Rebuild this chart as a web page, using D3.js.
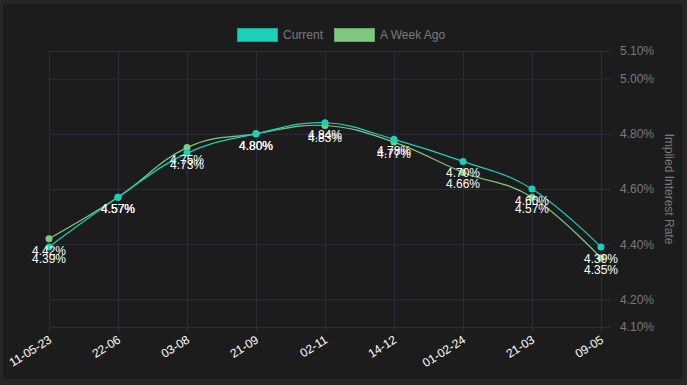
<!DOCTYPE html>
<html>
<head>
<meta charset="utf-8">
<script src="https://cdn.jsdelivr.net/npm/d3@7"></script>
<style>
  html, body { margin: 0; padding: 0; background: #262626; }
  svg { display: block; font-family: "Liberation Sans", Arial, sans-serif; }
</style>
</head>
<body>
<svg id="chart" width="687" height="385"></svg>
<script>
// meeting dates (x categories)
var dates = ["11-05-23", "22-06", "03-08", "21-09", "02-11", "14-12", "01-02-24", "21-03", "09-05"];
// implied rates, %
var current = [4.39, 4.57, 4.73, 4.80, 4.84, 4.78, 4.70, 4.60, 4.39];
var weekAgo = [4.42, 4.57, 4.75, 4.80, 4.83, 4.77, 4.66, 4.57, 4.35];
var yTicks = [5.10, 5.00, 4.80, 4.60, 4.40, 4.20, 4.10];

var series = [
  { name: "A Week Ago", values: weekAgo, color: "#7fc97f" },
  { name: "Current", values: current, color: "#1ccfb9" }
];

var svg = d3.select("#chart");
var plotLeft = 49, plotRight = 601, plotTop = 51, plotBottom = 327;

// card background
svg.append("rect")
  .attr("x", 3).attr("y", 4)
  .attr("width", 679).attr("height", 375)
  .attr("rx", 3)
  .attr("fill", "#1c1c1c");

var x = d3.scalePoint().domain(dates).range([plotLeft, plotRight]);
var y = d3.scaleLinear().domain([4.10, 5.10]).range([plotBottom, plotTop]);

var gridColor = "#2e2b40";

// vertical grid + x labels
var xAxis = svg.append("g")
  .attr("transform", "translate(0," + plotBottom + ")")
  .call(d3.axisBottom(x).tickSize(-(plotBottom - plotTop)).tickPadding(0));
xAxis.select(".domain").remove();
xAxis.selectAll(".tick line").attr("stroke", gridColor).attr("y1", 4);
xAxis.selectAll(".tick text")
  .attr("fill", "#ffffff")
  .attr("font-size", 12)
  .attr("text-anchor", "end")
  .attr("y", 0)
  .attr("dy", null)
  .attr("transform", "translate(3,15) rotate(-32)");

// horizontal grid + y labels on right
var yAxis = svg.append("g")
  .attr("transform", "translate(" + plotLeft + ",0)")
  .call(d3.axisRight(y).tickValues(yTicks)
    .tickSize(plotRight - plotLeft + 10)
    .tickPadding(9)
    .tickFormat(function(d) { return d.toFixed(2) + "%"; }));
yAxis.select(".domain").remove();
yAxis.selectAll(".tick line").attr("stroke", gridColor);
yAxis.selectAll(".tick text").attr("fill", "#7a7a7a").attr("font-size", 12);

// axis title
svg.append("text")
  .attr("transform", "translate(665,189) rotate(90)")
  .attr("text-anchor", "middle")
  .attr("font-size", 12)
  .attr("fill", "#7a7a7a")
  .text("Implied Interest Rate");

var line = d3.line()
  .x(function(d, i) { return x(dates[i]); })
  .y(function(d) { return y(d); })
  .curve(d3.curveCardinal.tension(-0.2));

series.forEach(function(s) {
  svg.append("path")
    .attr("d", line(s.values))
    .attr("fill", "none")
    .attr("stroke", s.color)
    .attr("stroke-width", 1.2);
});

series.forEach(function(s) {
  svg.append("g").selectAll("circle")
    .data(s.values)
    .enter().append("circle")
      .attr("cx", function(d, i) { return x(dates[i]); })
      .attr("cy", function(d) { return y(d); })
      .attr("r", 3.5)
      .attr("fill", s.color);
});

series.forEach(function(s) {
  svg.append("g").selectAll("text")
    .data(s.values)
    .enter().append("text")
      .attr("x", function(d, i) { return x(dates[i]); })
      .attr("y", function(d) { return y(d) + 16; })
      .attr("text-anchor", "middle")
      .attr("font-size", 12)
      .attr("fill", "#ffffff")
      .text(function(d) { return d.toFixed(2) + "%"; });
});

// legend
var legend = svg.append("g");
var legendItems = [
  { name: "Current", color: "#1ccfb9", x: 237 },
  { name: "A Week Ago", color: "#7fc97f", x: 334 }
];
legendItems.forEach(function(l) {
  legend.append("rect")
    .attr("x", l.x + 0.5).attr("y", 28.5)
    .attr("width", 40).attr("height", 13)
    .attr("fill", l.color)
    .attr("stroke", d3.color(l.color).darker(0.6))
    .attr("stroke-width", 1);
  legend.append("text")
    .attr("x", l.x + 46).attr("y", 39)
    .attr("font-size", 12)
    .attr("fill", "#7a7a7a")
    .text(l.name);
});
</script>
</body>
</html>
